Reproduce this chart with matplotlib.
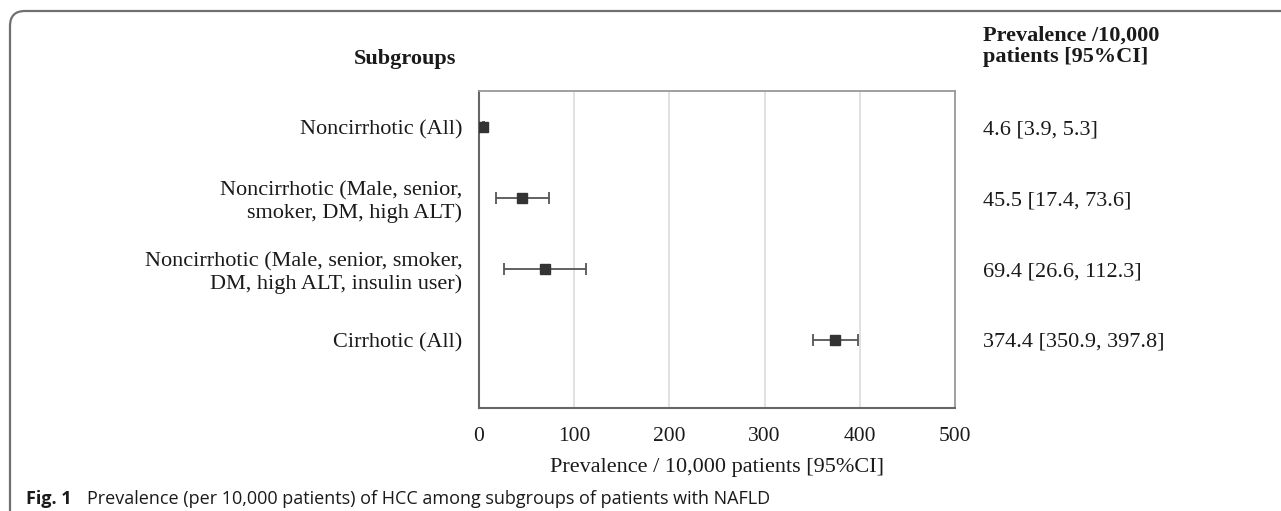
import numpy as np
import matplotlib
matplotlib.use("Agg")
import matplotlib.pyplot as plt
import matplotlib.transforms as mtransforms
from matplotlib.patches import FancyBboxPatch

# ── data ────────────────────────────────────────────────
subgroups = [
    "Noncirrhotic (All)",
    "Noncirrhotic (Male, senior,\nsmoker, DM, high ALT)",
    "Noncirrhotic (Male, senior, smoker,\nDM, high ALT, insulin user)",
    "Cirrhotic (All)",
]
prevalence = [4.6, 45.5, 69.4, 374.4]
ci_low = [3.9, 17.4, 26.6, 350.9]
ci_high = [5.3, 73.6, 112.3, 397.8]
x_ticks = [0, 100, 200, 300, 400, 500]

SERIF = "Liberation Serif"
SANS = "Open Sans"
TXT = "#1a1a1a"

W, H = 1281, 511
fig = plt.figure(figsize=(W / 100, H / 100), dpi=100)

# background layer in pixel coords (frame, headers, caption)
bg = fig.add_axes([0, 0, 1, 1], zorder=-1)
bg.set_xlim(0, W)
bg.set_ylim(H, 0)
bg.axis("off")
frame = FancyBboxPatch((10, 11), 1400, 600, boxstyle="round,pad=0,rounding_size=15",
                       fill=False, edgecolor="#707070", linewidth=1.6)
bg.add_patch(frame)

# ── forest plot ─────────────────────────────────────────
ax = fig.add_axes([479 / W, 1 - 408 / H, (955 - 479) / W, (408 - 91) / H])
y = np.arange(len(subgroups))
vals = np.array(prevalence)
err = np.array([vals - np.array(ci_low), np.array(ci_high) - vals])

ax.errorbar(vals, y, xerr=err, fmt="s", color="#333333", ecolor="#555555",
            markersize=7.5, elinewidth=1.3, capsize=4, capthick=1.3, zorder=3)

ax.set_xlim(0, 500)
ax.set_ylim(3.96, -0.51)
ax.set_xticks(x_ticks)
ax.set_xticklabels([str(t) for t in x_ticks], family=SERIF, fontsize=15.5, color=TXT)
ax.set_yticks(y)
ax.set_yticklabels(subgroups, family=SERIF, fontsize=16, color=TXT, linespacing=1.2)
ax.tick_params(axis="both", length=0)
ax.tick_params(axis="y", pad=12)
ax.tick_params(axis="x", pad=14)
ax.grid(axis="x", color="#d9d9d9", linewidth=1.1)
ax.set_axisbelow(True)
for side in ["top", "right"]:
    ax.spines[side].set_color("#999999")
    ax.spines[side].set_linewidth(1.3)
for side in ["left", "bottom"]:
    ax.spines[side].set_color("#666666")
    ax.spines[side].set_linewidth(1.5)
ax.set_xlabel("Prevalence / 10,000 patients [95%CI]", family=SERIF, fontsize=16,
              color=TXT, labelpad=8)

# right-hand column of estimates
blend = mtransforms.blended_transform_factory(bg.transData, ax.transData)
for i, (v, lo, hi) in enumerate(zip(prevalence, ci_low, ci_high)):
    ax.text(983, i, f"{v} [{lo}, {hi}]", transform=blend, ha="left",
            va="center_baseline", family=SERIF, fontsize=16, color=TXT, clip_on=False)

# headers
bg.text(354, 59, "Subgroups", ha="left", va="center", family=SERIF,
        fontsize=16, fontweight="bold", color=TXT)
bg.text(983, 46, "Prevalence /10,000\npatients [95%CI]", ha="left", va="center",
        family=SERIF, fontsize=16, fontweight="bold", color=TXT, linespacing=1.1)

# caption
bg.text(26, 499, "Fig. 1", ha="left", va="center", family=SANS, fontsize=13,
        fontweight="bold", color=TXT)
bg.text(87, 499, "Prevalence (per 10,000 patients) of HCC among subgroups of patients with NAFLD",
        ha="left", va="center", family=SANS, fontsize=13, color=TXT)

plt.savefig("out.png", dpi=100)
